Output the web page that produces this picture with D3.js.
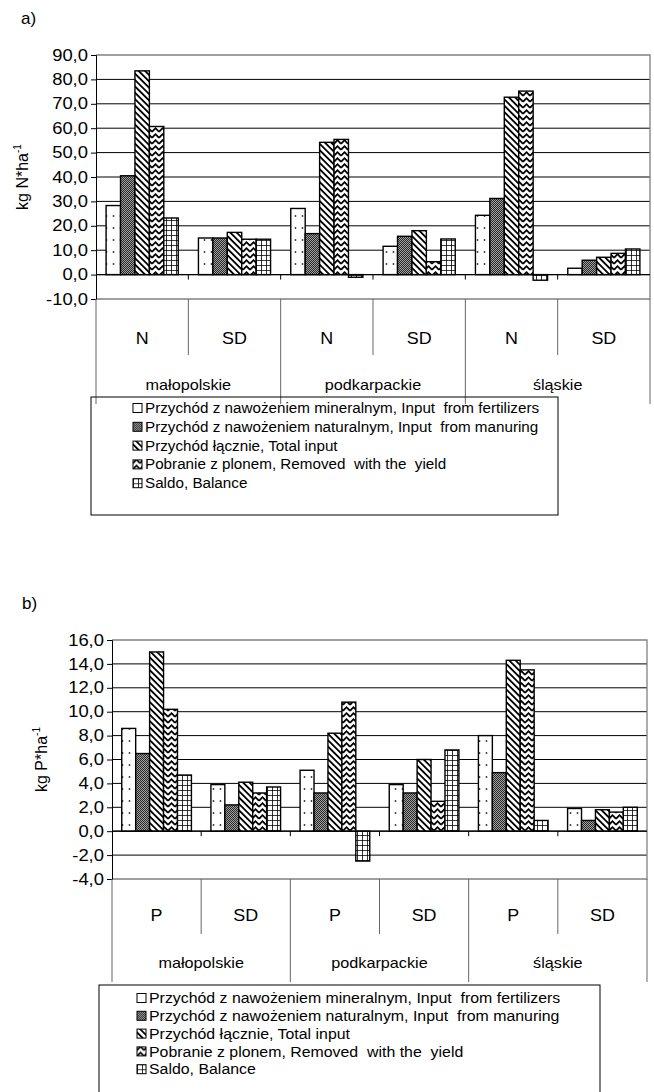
<!DOCTYPE html>
<html>
<head>
<meta charset="utf-8">
<script src="https://cdn.jsdelivr.net/npm/d3@7"></script>
<style>
  body { margin: 0; background: #fff; }
  svg text { font-family: "Liberation Sans", Arial, sans-serif; fill: #000; }
</style>
</head>
<body>
<svg id="page" width="654" height="1092"></svg>
<script>
// ---- data ----
const regions = ['małopolskie', 'podkarpackie', 'śląskie'];
const nSubgroups = ['N', 'SD', 'N', 'SD', 'N', 'SD'];
const pSubgroups = ['P', 'SD', 'P', 'SD', 'P', 'SD'];
const seriesLabels = [
  'Przychód z nawożeniem mineralnym, Input  from fertilizers',
  'Przychód z nawożeniem naturalnym, Input  from manuring',
  'Przychód łącznie, Total input',
  'Pobranie z plonem, Removed  with the  yield',
  'Saldo, Balance'
];

// nitrogen, kg N/ha
const nMineral = [28.3, 15.0, 27.1, 11.6, 24.3, 2.6];
const nNatural = [40.5, 15.0, 16.8, 15.7, 31.2, 5.9];
const nTotal   = [83.5, 17.3, 54.2, 18.0, 72.7, 7.1];
const nRemoved = [60.7, 14.5, 55.4, 5.3, 75.2, 8.7];
const nBalance = [23.2, 14.5, -1.1, 14.6, -2.3, 10.5];
const nTicks = [-10, 0, 10, 20, 30, 40, 50, 60, 70, 80, 90];

// phosphorus, kg P/ha
const pMineral = [8.6, 3.9, 5.1, 3.9, 8.0, 1.9];
const pNatural = [6.5, 2.2, 3.2, 3.2, 4.9, 0.9];
const pTotal   = [15.0, 4.1, 8.2, 6.0, 14.3, 1.8];
const pRemoved = [10.2, 3.2, 10.8, 2.5, 13.5, 1.6];
const pBalance = [4.7, 3.7, -2.5, 6.8, 0.9, 2.0];
const pTicks = [-4, -2, 0, 2, 4, 6, 8, 10, 12, 14, 16];

const patternIds = ['pat-dots', 'pat-checker', 'pat-diag', 'pat-zigzag', 'pat-grid'];

const locale = d3.formatLocale({ decimal: ',', thousands: ' ', grouping: [3], currency: ['', ''], minus: '-' });
const fmt = locale.format('.1f');

const svg = d3.select('#page');

// fill patterns (black & white, like the printed original)
const defs = svg.append('defs');

const dots = defs.append('pattern').attr('id', 'pat-dots')
    .attr('patternUnits', 'userSpaceOnUse').attr('width', 7).attr('height', 12);
dots.append('rect').attr('width', 7).attr('height', 12).attr('fill', '#fff');
dots.append('circle').attr('cx', 3.5).attr('cy', 5).attr('r', 0.9).attr('fill', '#333');

const checker = defs.append('pattern').attr('id', 'pat-checker')
    .attr('patternUnits', 'userSpaceOnUse').attr('width', 2).attr('height', 2);
checker.append('rect').attr('width', 2).attr('height', 2).attr('fill', '#a0a0a0');
checker.append('rect').attr('width', 1).attr('height', 1).attr('fill', '#2a2a2a');
checker.append('rect').attr('x', 1).attr('y', 1).attr('width', 1).attr('height', 1).attr('fill', '#2a2a2a');

const diag = defs.append('pattern').attr('id', 'pat-diag')
    .attr('patternUnits', 'userSpaceOnUse').attr('width', 4.5).attr('height', 8)
    .attr('patternTransform', 'rotate(-45)');
diag.append('rect').attr('width', 4.5).attr('height', 8).attr('fill', '#fff');
diag.append('rect').attr('width', 1.8).attr('height', 8).attr('fill', '#000');

const zig = defs.append('pattern').attr('id', 'pat-zigzag')
    .attr('patternUnits', 'userSpaceOnUse').attr('width', 7).attr('height', 6);
zig.append('rect').attr('width', 7).attr('height', 6).attr('fill', '#fff');
zig.append('path').attr('d', 'M0,4.8 L3.5,1.2 L7,4.8')
    .attr('fill', 'none').attr('stroke', '#000').attr('stroke-width', 1.7);

const grid = defs.append('pattern').attr('id', 'pat-grid')
    .attr('patternUnits', 'userSpaceOnUse').attr('width', 5).attr('height', 5);
grid.append('rect').attr('width', 5).attr('height', 5).attr('fill', '#fff');
grid.append('path').attr('d', 'M0,0 H5 M0,0 V5')
    .attr('fill', 'none').attr('stroke', '#000').attr('stroke-width', 1.6);


class GroupedBarChart {

  constructor(_config, _data) {
    this.config = {
      letter: _config.letter,
      letterPos: _config.letterPos,
      plot: _config.plot,               // left, right, top, bottom of plot area
      yDomain: _config.yDomain,
      yTicks: _config.yTicks,
      yTitle: _config.yTitle,
      yTitleX: _config.yTitleX,
      subLabelY: _config.subLabelY,
      regionLabelY: _config.regionLabelY,
      shortSepEnd: _config.shortSepEnd,
      longSepEnd: _config.longSepEnd,
      legend: _config.legend
    }
    this.data = _data;
    this.initVis();
  }

  initVis() {
    let vis = this;
    const p = vis.config.plot;

    vis.width = p.right - p.left;
    vis.height = p.bottom - p.top;

    vis.chart = svg.append('g')
        .attr('transform', `translate(${p.left},${p.top})`);

    vis.yScale = d3.scaleLinear()
        .domain(vis.config.yDomain)
        .range([vis.height, 0]);

    vis.xScale = d3.scaleBand()
        .domain(d3.range(vis.data.subgroups.length))
        .range([0, vis.width])
        .padding(0);

    vis.xSeries = d3.scaleBand()
        .domain(d3.range(vis.data.series.length))
        .range([0, vis.xScale.bandwidth()])
        .paddingInner(0)
        .paddingOuter(0.7);

    vis.yAxis = d3.axisLeft(vis.yScale)
        .tickValues(vis.config.yTicks)
        .tickSize(5)
        .tickPadding(2)
        .tickFormat(fmt);

    // panel letter
    svg.append('text')
        .attr('x', vis.config.letterPos[0])
        .attr('y', vis.config.letterPos[1])
        .style('font-size', '17px')
        .text(vis.config.letter);

    // y title with superscript
    const t = svg.append('text')
        .attr('transform', `translate(${vis.config.yTitleX},${p.top + vis.height / 2}) rotate(-90)`)
        .attr('text-anchor', 'middle')
        .style('font-size', '16px');
    t.append('tspan').text(vis.config.yTitle);
    t.append('tspan').attr('dy', -7).style('font-size', '10px').text('-1');
  }

  updateVis() {
    let vis = this;
    vis.rows = [];
    vis.data.series.forEach((vals, j) => {
      vals.forEach((v, i) => vis.rows.push({ group: i, series: j, value: v }));
    });
    vis.renderVis();
  }

  renderVis() {
    let vis = this;
    const y0 = vis.yScale(0);
    const top = vis.config.plot.top;

    // gridlines
    vis.chart.selectAll('.grid')
        .data(vis.config.yTicks.filter(d => d !== vis.config.yDomain[0] && d !== vis.config.yDomain[1]))
      .join('line')
        .attr('class', 'grid')
        .attr('x1', 0).attr('x2', vis.width)
        .attr('y1', d => vis.yScale(d)).attr('y2', d => vis.yScale(d))
        .attr('stroke', '#000').attr('stroke-width', 1);

    // plot frame: top, right, bottom in grey
    vis.chart.append('path')
        .attr('d', `M0,0 H${vis.width} V${vis.height} H0`)
        .attr('fill', 'none').attr('stroke', '#808080').attr('stroke-width', 1.3);

    // bars
    vis.chart.selectAll('.bar')
        .data(vis.rows)
      .join('rect')
        .attr('class', 'bar')
        .attr('x', d => vis.xScale(d.group) + vis.xSeries(d.series))
        .attr('width', vis.xSeries.bandwidth())
        .attr('y', d => vis.yScale(Math.max(0, d.value)))
        .attr('height', d => Math.abs(vis.yScale(d.value) - y0))
        .attr('fill', d => `url(#${patternIds[d.series]})`)
        .attr('stroke', '#000')
        .attr('stroke-width', 1.4);

    // zero line with tick marks at group boundaries
    vis.chart.append('line')
        .attr('x1', 0).attr('x2', vis.width)
        .attr('y1', y0).attr('y2', y0)
        .attr('stroke', '#000').attr('stroke-width', 1.2);
    vis.chart.selectAll('.zero-tick')
        .data(d3.range(1, vis.data.subgroups.length))
      .join('line')
        .attr('class', 'zero-tick')
        .attr('x1', d => vis.xScale(d)).attr('x2', d => vis.xScale(d))
        .attr('y1', y0).attr('y2', y0 + 5)
        .attr('stroke', '#000');

    // y axis  (the scan is a bit wider than tall, hence the stretched labels)
    vis.chart.append('g')
        .attr('class', 'y-axis')
        .call(vis.yAxis)
        .call(g => g.selectAll('text')
            .style('font-size', '16px')
            .style('font-family', '"Liberation Sans", Arial, sans-serif')
            .attr('transform', 'scale(1.15,1)'))
        .call(g => g.selectAll('line, path').attr('stroke', '#000'));

    // category separators below the plot
    const nSub = vis.data.subgroups.length;
    vis.chart.selectAll('.sep')
        .data(d3.range(0, nSub + 1))
      .join('line')
        .attr('class', 'sep')
        .attr('x1', d => d === nSub ? vis.width : vis.xScale(d))
        .attr('x2', d => d === nSub ? vis.width : vis.xScale(d))
        .attr('y1', vis.height)
        .attr('y2', d => (d % 2 === 0 ? vis.config.longSepEnd : vis.config.shortSepEnd) - top)
        .attr('stroke', '#666').attr('stroke-width', 1);

    vis.chart.selectAll('.sub-label')
        .data(vis.data.subgroups)
      .join('text')
        .attr('class', 'sub-label')
        .attr('transform', (d, i) => `translate(${vis.xScale(i) + vis.xScale.bandwidth() / 2},${vis.config.subLabelY - top}) scale(1.12,1)`)
        .attr('dy', '0.35em')
        .attr('text-anchor', 'middle')
        .style('font-size', '16px')
        .text(d => d);

    vis.chart.selectAll('.region-label')
        .data(vis.data.regions)
      .join('text')
        .attr('class', 'region-label')
        .attr('transform', (d, i) => `translate(${vis.xScale(i * 2 + 1)},${vis.config.regionLabelY - top}) scale(1.08,1)`)
        .attr('dy', '0.35em')
        .attr('text-anchor', 'middle')
        .style('font-size', '15px')
        .text(d => d);

    // legend
    const L = vis.config.legend;
    svg.append('rect')
        .attr('x', L.x).attr('y', L.y).attr('width', L.w).attr('height', L.h)
        .attr('fill', 'none').attr('stroke', '#000').attr('stroke-width', 1);
    const items = svg.selectAll(null)
        .data(seriesLabels)
      .join('g')
        .attr('transform', (d, i) => `translate(${L.iconX},${L.firstY + i * L.step})`);
    items.append('rect')
        .attr('x', 0).attr('y', -4.5).attr('width', 9).attr('height', 9)
        .attr('fill', (d, i) => `url(#${patternIds[i]})`)
        .attr('stroke', '#000').attr('stroke-width', 1);
    items.append('text')
        .attr('transform', `translate(12,0) scale(${L.stretch},1)`)
        .attr('dy', '0.35em')
        .style('font-size', L.fontSize + 'px')
        .style('white-space', 'pre')
        .text(d => d);
  }
}

const chartN = new GroupedBarChart({
  letter: 'a)', letterPos: [21, 24],
  plot: { left: 96, right: 650, top: 55, bottom: 299 },
  yDomain: [-10, 90], yTicks: nTicks,
  yTitle: 'kg N*ha', yTitleX: 28,
  subLabelY: 338, regionLabelY: 385, shortSepEnd: 355, longSepEnd: 404,
  legend: { x: 91, y: 397, w: 467, h: 118, iconX: 133, firstY: 408, step: 18.8, fontSize: 14.5, stretch: 1.05 }
}, { subgroups: nSubgroups, regions: regions, series: [nMineral, nNatural, nTotal, nRemoved, nBalance] });
chartN.updateVis();

const chartP = new GroupedBarChart({
  letter: 'b)', letterPos: [22, 609],
  plot: { left: 112, right: 647, top: 640, bottom: 879 },
  yDomain: [-4, 16], yTicks: pTicks,
  yTitle: 'kg P*ha', yTitleX: 47,
  subLabelY: 915, regionLabelY: 963, shortSepEnd: 934, longSepEnd: 982,
  legend: { x: 99, y: 985, w: 501, h: 130, iconX: 137, firstY: 998, step: 17.8, fontSize: 15, stretch: 1.06 }
}, { subgroups: pSubgroups, regions: regions, series: [pMineral, pNatural, pTotal, pRemoved, pBalance] });
chartP.updateVis();
</script>
</body>
</html>
